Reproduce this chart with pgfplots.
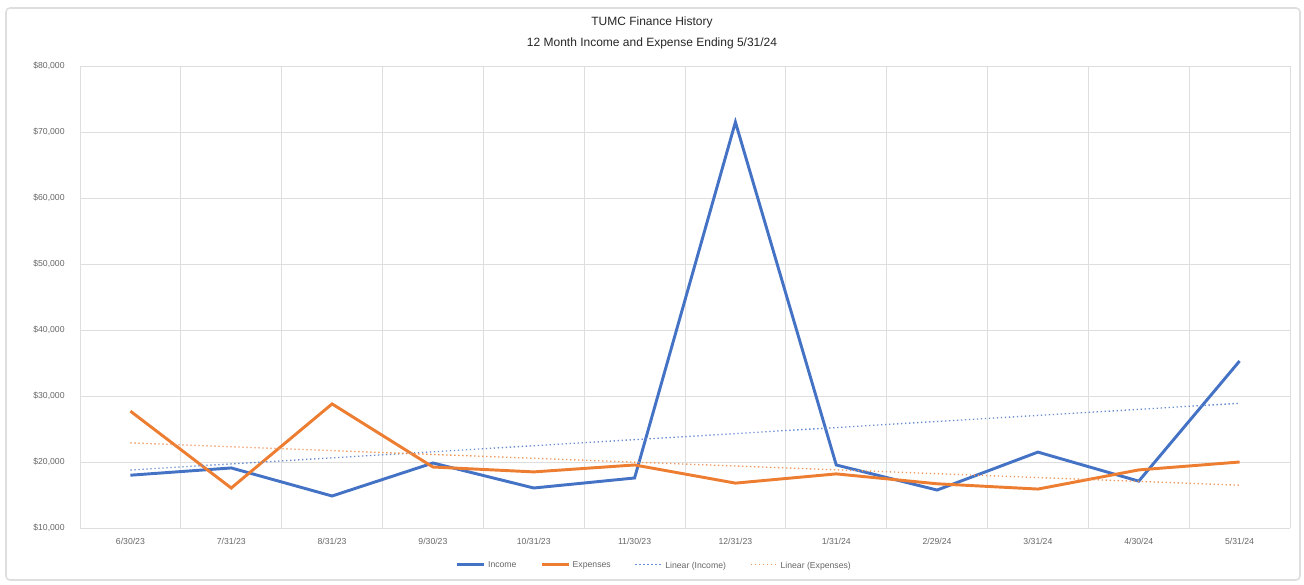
\documentclass[border=0pt]{standalone}
\usepackage{pgfplots}
\pgfplotsset{compat=1.18}
\usepackage{fontspec}
\setmainfont{Liberation Sans}
\definecolor{incblue}{HTML}{4472C4}
\definecolor{expor}{HTML}{ED7D31}
\definecolor{gridc}{HTML}{DEDEDE}
\definecolor{txtc}{HTML}{666666}
\begin{document}
\begin{tikzpicture}
\begin{scope}[x=0.75pt,y=-0.75pt]
\path (0,0) rectangle (1304,585);
\draw[gridc, line width=1.2pt, rounded corners=3pt] (6,8) rectangle (1300,580);
\node[font=\fontsize{9}{11}\selectfont, text=black!85] at (652,22) {TUMC Finance History};
\node[font=\fontsize{9}{11}\selectfont, text=black!85] at (652,43) {12 Month Income and Expense Ending 5/31/24};
\end{scope}
\begin{axis}[
  at={(60pt,-396pt)}, anchor=south west,
  scale only axis, width=907.5pt, height=346.5pt,
  xmin=-0.5, xmax=11.5, ymin=10000, ymax=80000,
  xtick={0,...,11},
  xticklabels={6/30/23,7/31/23,8/31/23,9/30/23,10/31/23,11/30/23,12/31/23,1/31/24,2/29/24,3/31/24,4/30/24,5/31/24},
  minor xtick={-0.5,0.5,...,11.5},
  ytick={10000,20000,...,80000},
  scaled y ticks=false,
  yticklabel={\$\pgfmathprintnumber{\tick}},
  /pgf/number format/.cd, fixed, 1000 sep={,}, assume math mode=true,
  /pgfplots/.cd,
  major x tick style={draw=none},
  minor x tick style={gridc, line width=0.7pt},
  minor tick length=3.75pt,
  ytick style={draw=none},
  xminorgrids=true, ymajorgrids=true,
  minor x grid style={gridc, line width=0.7pt},
  major y grid style={gridc, line width=0.7pt},
  axis line style={draw=none},
  tick label style={font=\fontsize{6.5}{8}\selectfont, text=txtc},
  xticklabel style={yshift=-4.5pt},
  yticklabel style={xshift=-8pt},
  legend columns=4,
  legend style={at={(0.475,-0.082)}, anchor=center, draw=none, fill=none,
    font=\fontsize{6.5}{8}\selectfont, text=txtc,
    /tikz/every even column/.append style={column sep=16pt}},
  legend image code/.code={\draw[#1] (0cm,0.03cm) -- (0.7cm,0.03cm);},
]
\addplot[incblue, line width=2.2pt, mark=none] coordinates {
(0,18000) (1,19100) (2,14850) (3,19850) (4,16060) (5,17580)
(6,71500) (7,19550) (8,15750) (9,21500) (10,17100) (11,35300)};
\addlegendentry{Income}
\addplot[expor, line width=2.2pt, mark=none] coordinates {
(0,27700) (1,16060) (2,28800) (3,19240) (4,18500) (5,19550)
(6,16800) (7,18200) (8,16700) (9,15900) (10,18800) (11,20000)};
\addlegendentry{Expenses}
\addplot[incblue!80, line width=1pt, dotted, mark=none] coordinates {(0,18792) (11,28898)};
\addlegendentry{Linear (Income)}
\addplot[expor!80, line width=1pt, dotted, mark=none] coordinates {(0,22893) (11,16482)};
\addlegendentry{Linear (Expenses)}
\end{axis}
\end{tikzpicture}
\end{document}
